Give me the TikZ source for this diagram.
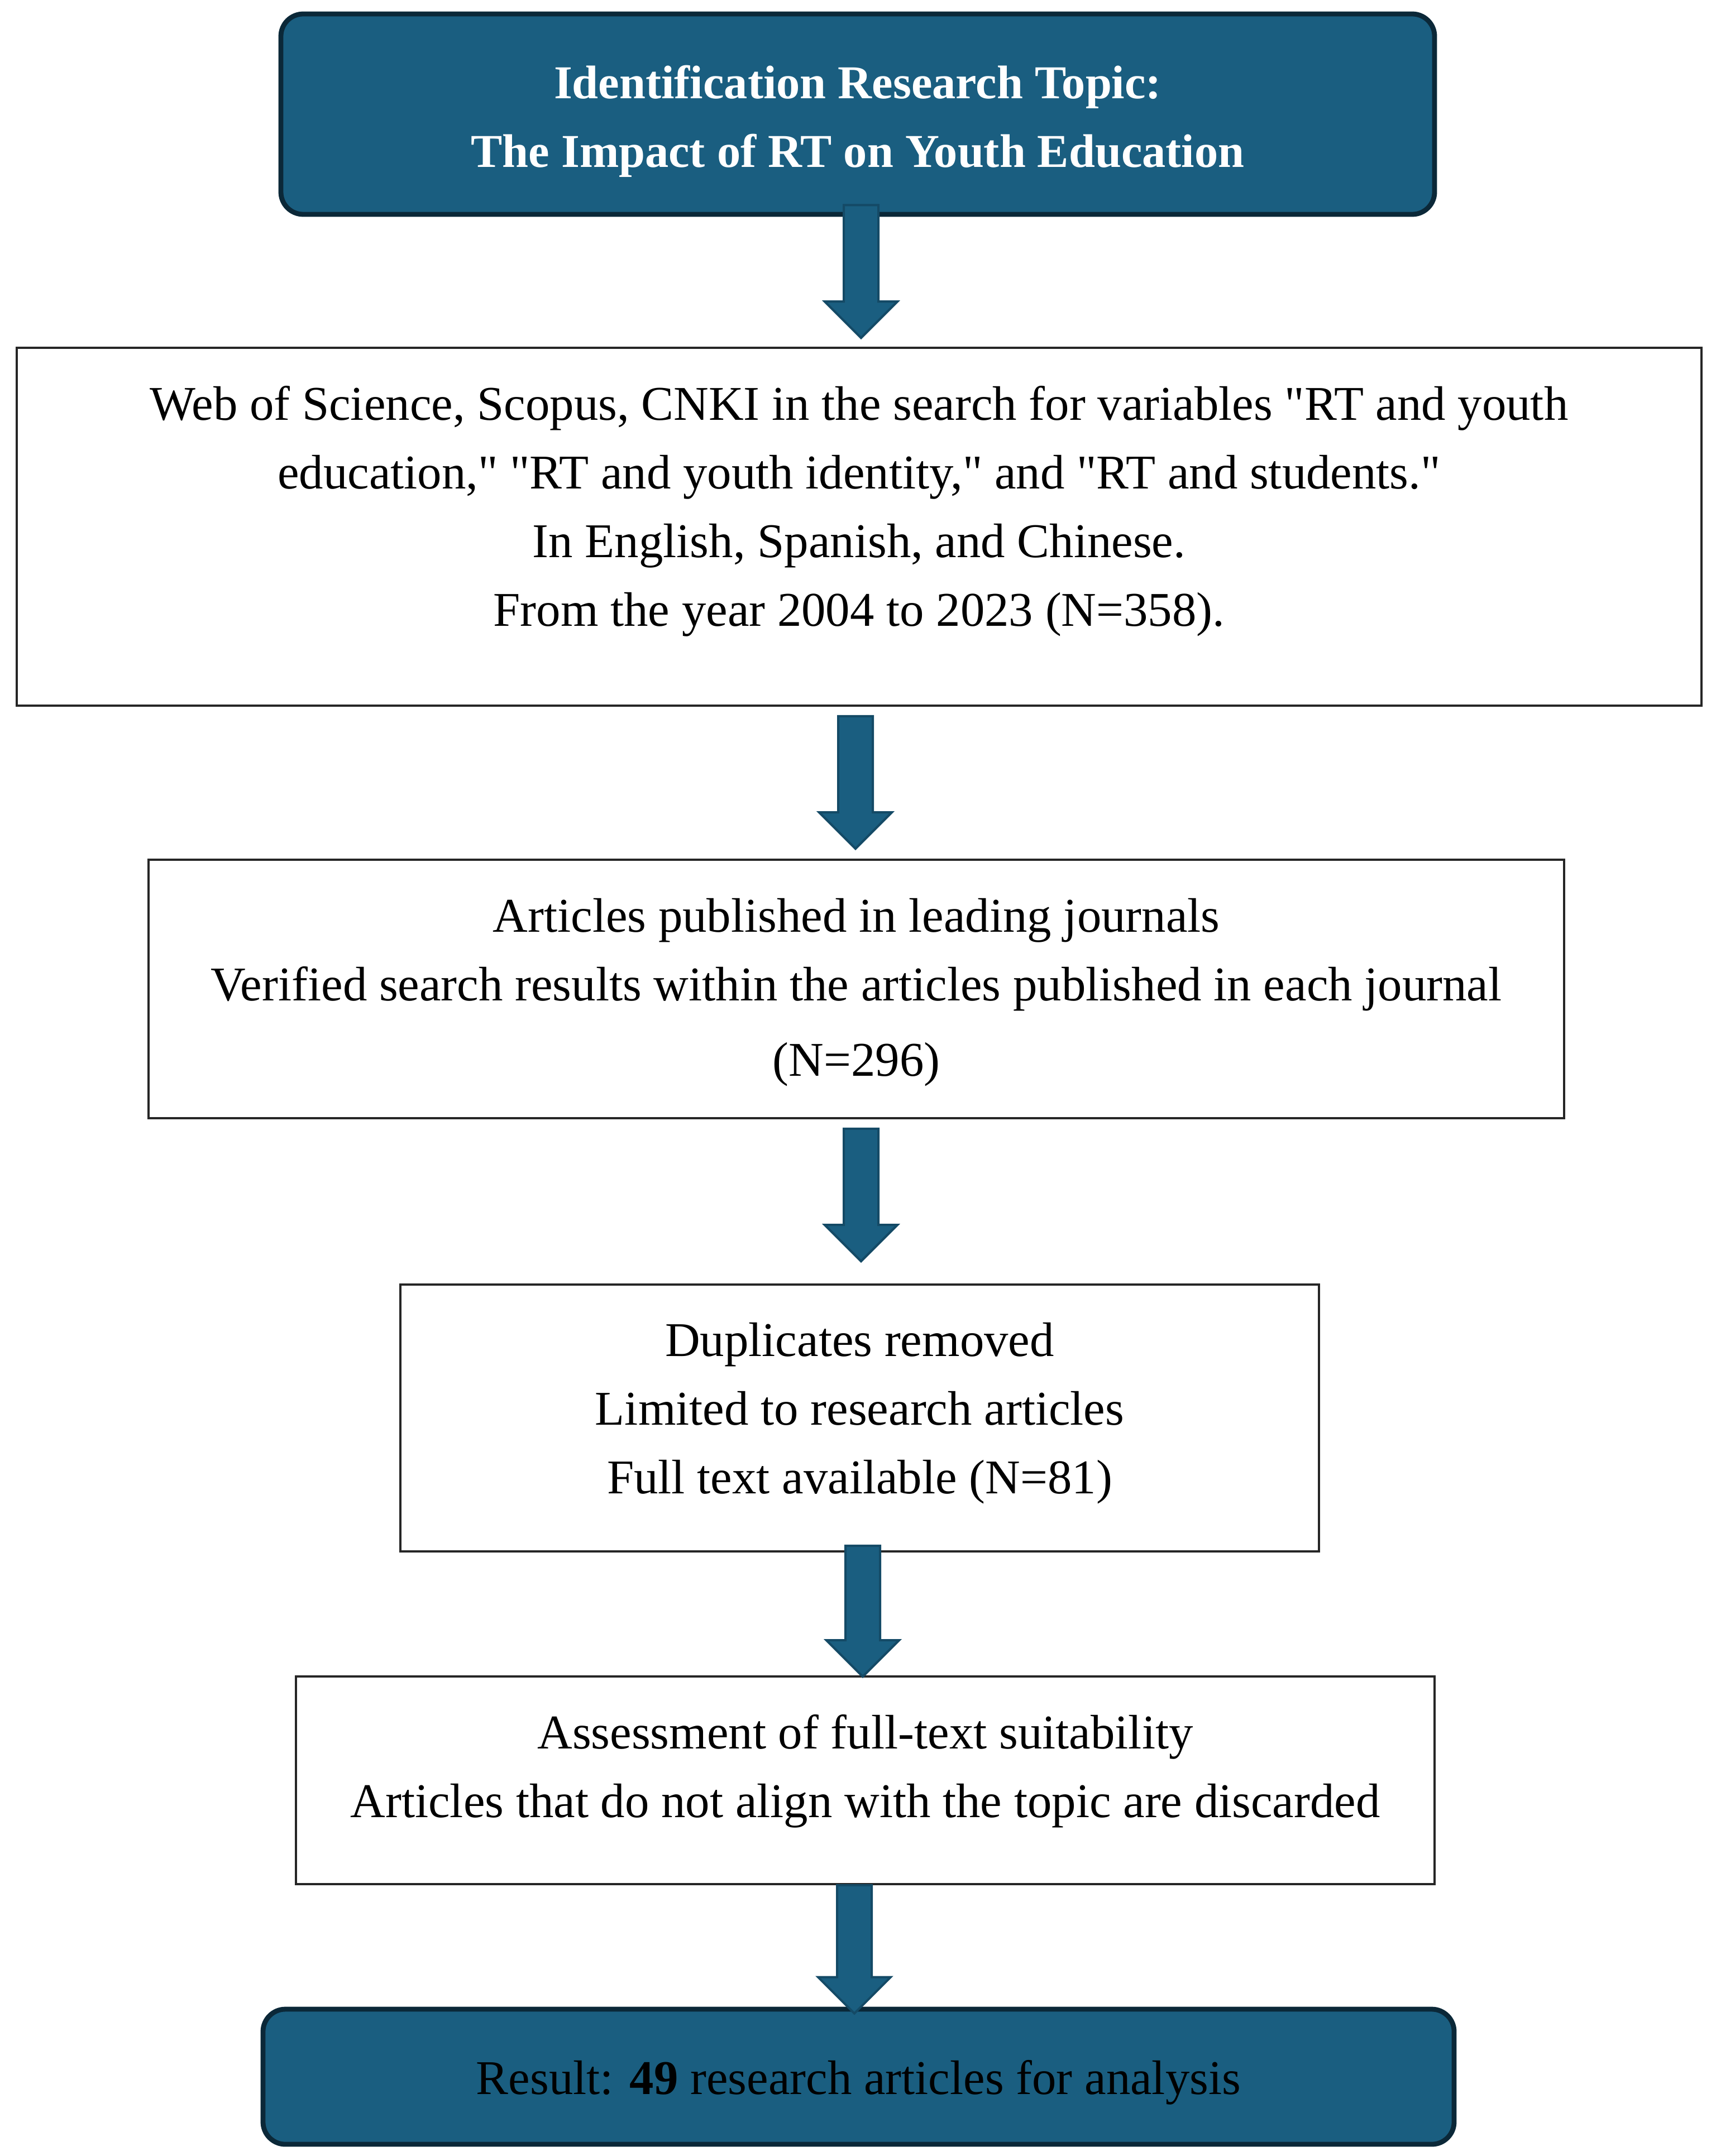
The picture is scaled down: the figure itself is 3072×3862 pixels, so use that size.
\documentclass[tikz,border=0pt]{standalone}
\usepackage{fontspec}
\setmainfont{Liberation Serif}[Ligatures=TeXOff]
\usetikzlibrary{calc}
\definecolor{boxblue}{HTML}{1A5E80}
\definecolor{boxedge}{HTML}{0B2838}
\definecolor{arrowedge}{HTML}{144A66}
\tikzset{
  bluebox/.style={draw=boxedge, line width=2.2pt, fill=boxblue, rounded corners=10pt,
    inner sep=0pt},
  whitebox/.style={draw=black!85, line width=0.9pt, fill=white, inner sep=0pt},
  txt/.style={align=center, inner sep=0pt, font=\fontsize{21.7}{30.75}\selectfont},
  arrowstyle/.style={fill=boxblue, draw=arrowedge, line width=1pt, line join=miter},
}
\newcommand\flowarrow[2]{%
  \path let \p1=(#1), \p2=(#2) in [arrowstyle]
    (\x1-7.75pt,\y1) -- (\x1+7.75pt,\y1) -- (\x1+7.75pt,\y2+16.25pt)
    -- (\x1+16.25pt,\y2+16.25pt) -- (\x1,\y2) -- (\x1-16.25pt,\y2+16.25pt)
    -- (\x1-7.75pt,\y2+16.25pt) -- cycle;}
\begin{document}
\begin{tikzpicture}[x=0.25pt,y=-0.25pt]
\useasboundingbox[fill=white] (0,0) rectangle (3072,3862);

% boxes
\node[bluebox, minimum width=516.5pt, minimum height=89.75pt] (top) at (1536,204.5) {};
\node[whitebox, minimum width=754.25pt, minimum height=160.25pt] (search) at (1538.5,943.5) {};
\node[whitebox, minimum width=633.75pt, minimum height=115.75pt] (journals) at (1533.5,1771.5) {};
\node[whitebox, minimum width=411.25pt, minimum height=119.5pt] (dup) at (1539.5,2540) {};
\node[whitebox, minimum width=509.75pt, minimum height=93pt] (assess) at (1549.5,3189) {};
\node[bluebox, minimum width=533.25pt, minimum height=60.5pt] (result) at (1537.5,3720) {};

% texts
\node[txt, text=white, font=\fontsize{21.1}{30.75}\selectfont\bfseries] (toptext)
  at ([yshift=-3.1pt]top.center)
  {Identification Research Topic:\\The Impact of RT on Youth Education};

\node[txt] (searchtext) at ([yshift=6.8pt]search.center)
  {Web of Science, Scopus, CNKI in the search for variables "RT and youth\\
   education," "RT and youth identity," and "RT and students."\\
   In English, Spanish, and Chinese.\\
   From the year 2004 to 2023 (N=358).};

\node[txt] (journalstext) at ([yshift=-1.5pt]journals.center)
  {Articles published in leading journals\\
   Verified search results within the articles published in each journal\\[3pt]
   (N=296)};

\node[txt] (duptext) at ([yshift=2.2pt]dup.center)
  {Duplicates removed\\
   Limited to research articles\\
   Full text available (N=81)};

\node[txt] (assesstext) at ([yshift=4pt]assess.center)
  {Assessment of full-text suitability\\
   Articles that do not align with the topic are discarded};

\node[txt, text=black] (resulttext) at ([yshift=-2.5pt]result.center)
  {Result: \textbf{49} research articles for analysis};

% arrows
\flowarrow{[xshift=1.5pt,yshift=5.25pt]top.south}{[yshift=4pt]search.north}
\flowarrow{[xshift=-1.625pt,yshift=-4.25pt]search.south}{[yshift=4.5pt]journals.north}
\flowarrow{[xshift=2.125pt,yshift=-4.25pt]journals.south}{[yshift=10pt]dup.north}
\flowarrow{[xshift=1.375pt,yshift=3pt]dup.south}{[yshift=-0.5pt]assess.north}
\flowarrow{[xshift=-4.875pt]assess.south}{[yshift=-3pt]result.north}
\end{tikzpicture}
\end{document}
